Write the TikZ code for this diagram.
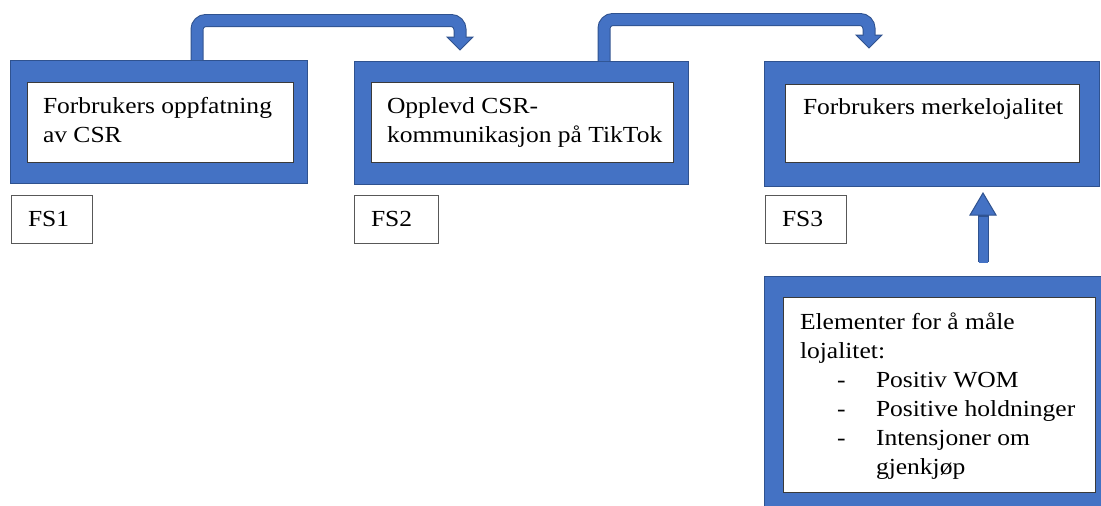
\documentclass[tikz,border=0pt]{standalone}
\usepackage{fontspec}
\setmainfont{Liberation Serif}[FakeStretch=1.11]
\usetikzlibrary{calc}
\definecolor{panelblue}{HTML}{4472C4}
\definecolor{paneledge}{HTML}{2F528F}
\definecolor{inkgray}{HTML}{3A3A3A}
\tikzset{
  panel/.style={draw=paneledge, fill=panelblue, line width=1pt, anchor=north west,
                inner sep=0pt, outer sep=0pt},
  card/.style={draw=inkgray, fill=white, line width=0.8pt, anchor=north west,
               inner sep=0pt, outer sep=0pt},
  tag/.style={draw=inkgray!85, fill=white, line width=0.8pt, anchor=north west,
              inner sep=0pt, outer sep=0pt},
  txt/.style={anchor=base west, inner sep=0pt, outer sep=0pt,
              font=\fontsize{23}{29}\selectfont},
  bandedge/.style={draw=paneledge, line width=13pt, rounded corners=9pt},
  bandfill/.style={draw=panelblue, line width=11pt, rounded corners=9pt},
  shaftedge/.style={draw=paneledge, line width=11pt},
  shaftfill/.style={draw=panelblue, line width=9pt},
  headtip/.style={fill=panelblue, draw=paneledge, line width=1pt, line join=miter},
}
\begin{document}
\begin{tikzpicture}[x=1pt, y=-1pt]
\useasboundingbox (0,0) rectangle (1101,506);

% ---- stage panels ----
\node[panel, minimum width=297pt, minimum height=123pt] (p1) at (10,60) {};
\node[card,  minimum width=266pt, minimum height=80pt]  (c1) at (27,82) {};
\node[panel, minimum width=334pt, minimum height=123pt] (p2) at (354,61) {};
\node[card,  minimum width=302pt, minimum height=80pt]  (c2) at (371,82) {};
\node[panel, minimum width=335pt, minimum height=125pt] (p3) at (764,61) {};
\node[card,  minimum width=294pt, minimum height=78pt]  (c3) at (785,84) {};
\node[panel, minimum width=346pt, minimum height=240pt] (p4) at (764,276) {};
\node[card,  minimum width=312pt, minimum height=195pt] (c4) at (783,297) {};

% ---- panel texts ----
\node[txt] at (43,113) {Forbrukers oppfatning};
\node[txt] at (43,142) {av CSR};
\node[txt] at (387,113) {Opplevd CSR-};
\node[txt] at (387,142) {kommunikasjon på TikTok};
\node[txt] at (803,114) {Forbrukers merkelojalitet};

\node[txt] at (800,329) {Elementer for å måle};
\node[txt] at (800,358) {lojalitet:};
\node[txt] at (837,387) {-};
\node[txt] at (876,387) {Positiv WOM};
\node[txt] at (837,416) {-};
\node[txt] at (876,416) {Positive holdninger};
\node[txt] at (837,445) {-};
\node[txt] at (876,445) {Intensjoner om};
\node[txt] at (876,474) {gjenkjøp};

% ---- research question tags ----
\node[tag, minimum width=81pt, minimum height=48pt] (t1) at (11,195) {};
\node[txt] at (28,226) {FS1};
\node[tag, minimum width=84pt, minimum height=48pt] (t2) at (354,195) {};
\node[txt] at (371,226) {FS2};
\node[tag, minimum width=81pt, minimum height=48pt] (t3) at (765,195) {};
\node[txt] at (782,226) {FS3};

% ---- bent arrow p1 -> p2 ----
\coordinate (r1)  at (0,20.5);
\coordinate (a1s) at ([xshift=187pt]p1.north west);
\coordinate (a1t) at ([xshift=106pt,yshift=11pt]p2.north west);
\coordinate (a1h) at ([yshift=13pt]a1t);
\draw[bandedge] (a1s) -- (a1s |- r1) -- (a1h |- r1) -- (a1h);
\draw[headtip] ([xshift=-13pt]a1h) -- ([xshift=13pt]a1h) -- (a1t) -- cycle;
\draw[bandfill] (a1s) -- (a1s |- r1) -- (a1h |- r1) -- ([yshift=-1.5pt]a1h);

% ---- bent arrow p2 -> p3 ----
\coordinate (r2)  at (0,19.5);
\coordinate (a2s) at ([xshift=250pt]p2.north west);
\coordinate (a2t) at ([xshift=105pt,yshift=13pt]p3.north west);
\coordinate (a2h) at ([yshift=13pt]a2t);
\draw[bandedge] (a2s) -- (a2s |- r2) -- (a2h |- r2) -- (a2h);
\draw[headtip] ([xshift=-13pt]a2h) -- ([xshift=13pt]a2h) -- (a2t) -- cycle;
\draw[bandfill] (a2s) -- (a2s |- r2) -- (a2h |- r2) -- ([yshift=-1.5pt]a2h);

% ---- upward arrow p4 -> p3 ----
\coordinate (a3s) at ([xshift=219pt,yshift=14pt]p4.north west);
\coordinate (a3t) at ([xshift=219pt,yshift=-7pt]p3.south west);
\coordinate (a3h) at ([yshift=-22pt]a3t);
\draw[shaftedge] (a3s) -- (a3h);
\draw[headtip] ([xshift=-13pt]a3h) -- ([xshift=13pt]a3h) -- (a3t) -- cycle;
\draw[shaftfill] ([yshift=-0.5pt]a3s) -- ([yshift=-1.5pt]a3h);
\end{tikzpicture}
\end{document}
